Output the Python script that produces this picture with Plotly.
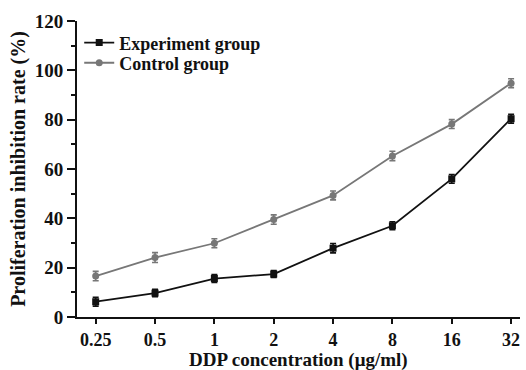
import plotly.graph_objects as go

concentrations = ["0.25", "0.5", "1", "2", "4", "8", "16", "32"]
experiment = [6.2, 9.7, 15.6, 17.4, 27.9, 37.0, 56.0, 80.4]
experiment_err = [1.8, 1.5, 1.6, 1.4, 1.9, 1.6, 1.8, 1.8]
control = [16.6, 24.1, 29.9, 39.5, 49.3, 65.3, 78.2, 94.8]
control_err = [1.9, 2.0, 1.8, 1.9, 1.8, 1.9, 1.8, 1.8]

xpos = list(range(len(concentrations)))

fig = go.Figure()
fig.add_trace(go.Scatter(
    x=xpos, y=experiment, name="Experiment group", mode="lines+markers",
    line=dict(color="#111111", width=1.8),
    marker=dict(symbol="square", size=7, color="#111111"),
    error_y=dict(type="data", array=experiment_err, color="#111111", thickness=1.6, width=3),
    legend="legend",
))
fig.add_trace(go.Scatter(
    x=xpos, y=control, name="Control group", mode="lines+markers",
    line=dict(color="#777777", width=1.8),
    marker=dict(symbol="circle", size=7, color="#777777"),
    error_y=dict(type="data", array=control_err, color="#777777", thickness=1.6, width=3),
    legend="legend2",
))

ff = "Liberation Serif"
legfont = dict(family=ff, size=18, color="#111111", weight="bold")
fig.update_layout(
    width=526, height=370,
    margin=dict(l=77, r=6, t=21, b=53),
    paper_bgcolor="white", plot_bgcolor="white",
    font=dict(family=ff, size=18, color="#111111", weight="bold"),
    showlegend=True,
    legend=dict(x=0.005, y=0.926, xanchor="left", yanchor="middle",
                bgcolor="rgba(0,0,0,0)", font=legfont, itemwidth=30),
    legend2=dict(x=0.005, y=0.858, xanchor="left", yanchor="middle",
                 bgcolor="rgba(0,0,0,0)", font=legfont, itemwidth=30),
    xaxis=dict(
        range=[-0.315, 7.15], tickmode="array", tickvals=xpos, ticktext=concentrations,
        showline=True, linecolor="#111111", linewidth=2, ticks="outside", ticklen=5,
        tickwidth=2, tickcolor="#111111", showgrid=False, zeroline=False, automargin=False,
        tickfont=dict(family=ff, size=18, color="#111111", weight="bold"),
    ),
    yaxis=dict(
        range=[0, 120], tickvals=[0, 20, 40, 60, 80, 100, 120],
        showline=True, linecolor="#111111", linewidth=2, ticks="outside", ticklen=8,
        tickwidth=2, tickcolor="#111111", showgrid=False, zeroline=False, automargin=False,
        minor=dict(tickvals=[10, 30, 50, 70, 90, 110], ticks="outside", ticklen=4,
                   tickwidth=2, tickcolor="#111111", showgrid=False),
        tickfont=dict(family=ff, size=19, color="#111111", weight="bold"),
        title=dict(text="Proliferation inhibition rate (%)", standoff=4,
                   font=dict(family=ff, size=20, color="#111111", weight="bold")),
    ),
    annotations=[dict(
        text="DDP concentration (μg/ml)", xref="paper", yref="paper",
        x=0.5, y=-0.1453, xanchor="center", yanchor="middle", showarrow=False,
        borderpad=0,
        font=dict(family=ff, size=19, color="#111111", weight="bold"),
    )],
)

fig.write_html("out.html")
